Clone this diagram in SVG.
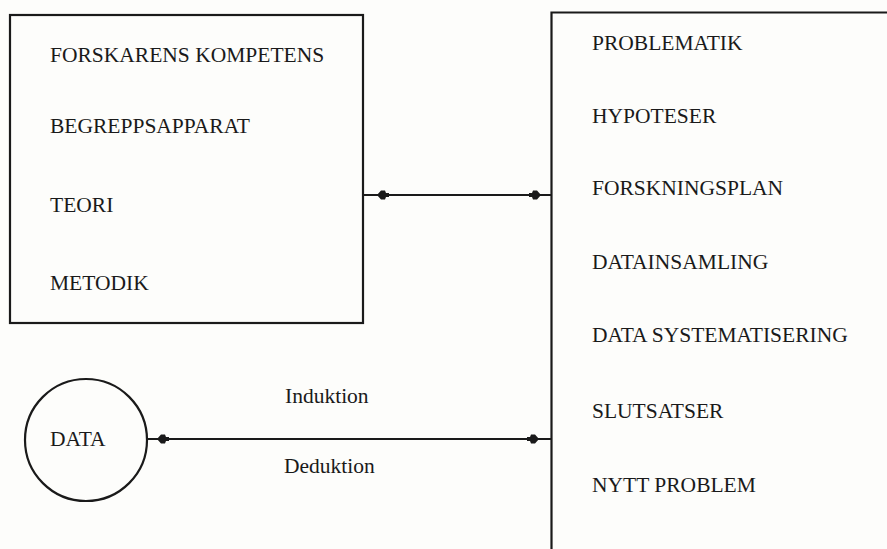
<svg xmlns="http://www.w3.org/2000/svg" xmlns:xlink="http://www.w3.org/1999/xlink" width="887" height="549" viewBox="0 0 887 549">
<style>
.box{fill:none;stroke:#1a1a1a;stroke-width:2.2}
.ln{stroke:#1a1a1a;stroke-width:2;fill:none}
.t{font-family:"Liberation Serif","Times New Roman",serif;font-size:21.5px;fill:#1a1a1a}
.ah{fill:#1a1a1a}
</style>
<defs>
<path id="ah" class="ah" d="M0,0 L4,-4.5 L8,-4.5 L9,-2 L12,-2 L12,2 L9,2 L8,4.5 L4,4.5 Z"/>
</defs>
<rect width="887" height="549" fill="#fdfdfb"/>
<g id="kompetens">
<rect class="box" x="10" y="15" width="353" height="308"/>
<text class="t" x="50" y="62">FORSKARENS KOMPETENS</text>
<text class="t" x="50" y="133">BEGREPPSAPPARAT</text>
<text class="t" x="50" y="212">TEORI</text>
<text class="t" x="50" y="290">METODIK</text>
</g>
<g id="process">
<path class="box" d="M551.5,560 V12.5 H890"/>
<text class="t" x="592" y="50">PROBLEMATIK</text>
<text class="t" x="592" y="123">HYPOTESER</text>
<text class="t" x="592" y="195">FORSKNINGSPLAN</text>
<text class="t" x="592" y="269">DATAINSAMLING</text>
<text class="t" x="592" y="342">DATA SYSTEMATISERING</text>
<text class="t" x="592" y="418">SLUTSATSER</text>
<text class="t" x="592" y="492">NYTT PROBLEM</text>
</g>
<g id="data">
<circle class="box" cx="86" cy="440" r="61"/>
<text class="t" x="50" y="446">DATA</text>
</g>
<g id="connectors">
<line class="ln" x1="363" y1="195" x2="551" y2="195"/>
<use xlink:href="#ah" transform="translate(377,195)"/>
<use xlink:href="#ah" transform="translate(541,195) scale(-1,1)"/>
<line class="ln" x1="147" y1="439" x2="551" y2="439"/>
<use xlink:href="#ah" transform="translate(157,439)"/>
<use xlink:href="#ah" transform="translate(539,439) scale(-1,1)"/>
<text class="t" x="285" y="403">Induktion</text>
<text class="t" x="284" y="473">Deduktion</text>
</g>
</svg>
